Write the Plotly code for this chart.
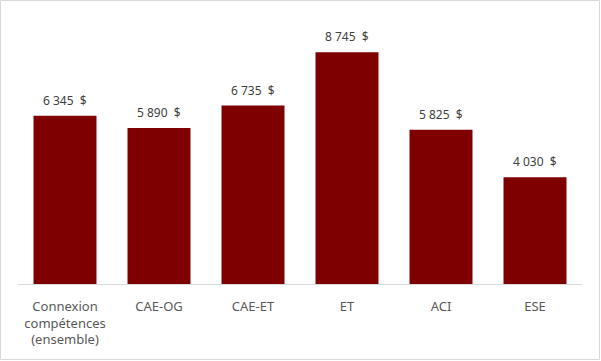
import plotly.graph_objects as go

categories = ["Connexion<br>compétences<br>(ensemble)", "CAE-OG", "CAE-ET", "ET", "ACI", "ESE"]
values = [6345, 5890, 6735, 8745, 5825, 4030]

def fmt(v):
    s = f"{v:,}".replace(",", "\u00a0")
    return s + "\u00a0\u00a0$"

W, H = 601, 361
L, R, T, B = 18, 19, 19, 77
pw = W - L - R
ph = H - T - B

fig = go.Figure()
fig.add_trace(go.Bar(x=categories, y=values, marker_color="#7F0000", marker_line_width=0,
                     hoverinfo="skip"))
for c, v in zip(categories, values):
    fig.add_annotation(x=c, y=v, text=fmt(v), showarrow=False, yanchor="bottom", yshift=5,
                       font=dict(family="Noto Sans", size=12, color="#404040"))

fig.add_shape(type="rect", xref="paper", yref="paper",
              x0=(0.5 - L) / pw, x1=(W - 1.5 - L) / pw,
              y0=(T + ph - (H - 1.5)) / ph, y1=(T + ph - 0.5) / ph,
              line=dict(color="#D9D9D9", width=1), fillcolor="rgba(0,0,0,0)", layer="below")

fig.update_layout(
    width=W, height=H, margin=dict(l=L, r=R, t=T, b=B),
    paper_bgcolor="white", plot_bgcolor="white",
    bargap=0.33, showlegend=False,
    font=dict(family="Noto Sans", size=12, color="#595959"),
)
fig.update_xaxes(showline=True, linecolor="#D9D9D9", linewidth=1, ticks="", showgrid=False,
                 tickfont=dict(family="Noto Sans", size=13, color="#595959"), ticklabelstandoff=10)
fig.update_yaxes(range=[0, 10000], visible=False, showgrid=False)

fig.write_html("out.html", config={"displayModeBar": False})
